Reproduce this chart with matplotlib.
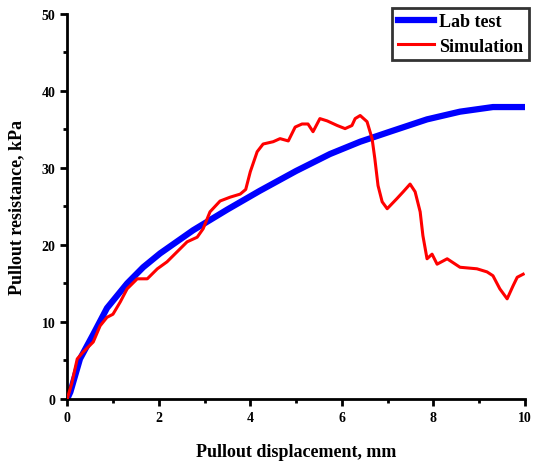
import matplotlib
matplotlib.use('Agg')
import matplotlib.pyplot as plt
from matplotlib.ticker import MultipleLocator

# Lab test curve
lab_x = [0.0, 0.07, 0.28, 0.57, 0.87, 1.31, 1.66, 2.03, 2.75, 3.5, 4.2, 5.0,
         5.74, 6.4, 7.05, 7.86, 8.58, 9.3, 10.0]
lab_y = [0.0, 0.9, 5.2, 8.4, 11.8, 15.0, 17.1, 18.9, 21.9, 24.6, 27.0, 29.6,
         31.8, 33.4, 34.7, 36.3, 37.3, 37.9, 37.9]

# Simulation curve
sim_x = [0.0, 0.1, 0.22, 0.35, 0.57, 0.72, 0.87, 1.0, 1.16, 1.31, 1.53, 1.75, 1.97,
         2.18, 2.4, 2.62, 2.84, 2.97, 3.12, 3.34, 3.56, 3.78, 3.9, 4.0, 4.15, 4.28,
         4.5, 4.65, 4.83, 4.98, 5.13, 5.26, 5.37, 5.52, 5.68, 5.9, 6.07, 6.22, 6.29,
         6.4, 6.55, 6.66, 6.72, 6.79, 6.88, 6.99, 7.2, 7.34, 7.49, 7.6, 7.71, 7.77,
         7.86, 7.97, 8.08, 8.3, 8.58, 8.95, 9.17, 9.3, 9.45, 9.61, 9.74, 9.83, 9.96]
sim_y = [0.0, 2.0, 5.2, 6.1, 7.4, 9.5, 10.6, 11.0, 12.6, 14.3, 15.6, 15.6, 16.9,
         17.8, 19.1, 20.4, 21.0, 22.1, 24.3, 25.7, 26.2, 26.6, 27.2, 29.5, 32.1, 33.1,
         33.4, 33.8, 33.5, 35.3, 35.7, 35.7, 34.7, 36.4, 36.1, 35.5, 35.1, 35.5, 36.4,
         36.8, 36.0, 33.8, 31.2, 27.7, 25.6, 24.7, 26.0, 26.9, 27.9, 26.9, 24.3, 21.2,
         18.2, 18.8, 17.5, 18.2, 17.1, 16.9, 16.5, 16.0, 14.3, 13.0, 14.7, 15.8, 16.2]

plt.rcParams['font.family'] = 'Liberation Serif'
plt.rcParams['font.weight'] = 'bold'

fig = plt.figure(figsize=(5.33, 4.64), dpi=100)
ax = fig.add_axes([0.126, 0.138, 0.859, 0.83])

ax.plot(lab_x, lab_y, color='#0000ff', linewidth=4.5, label='Lab test', zorder=2)
ax.plot(sim_x, sim_y, color='#ff0000', linewidth=2.2, label='Simulation', zorder=3)

ax.set_xlim(0, 10)
ax.set_ylim(0, 50)
ax.xaxis.set_major_locator(MultipleLocator(2))
ax.xaxis.set_minor_locator(MultipleLocator(1))
ax.yaxis.set_major_locator(MultipleLocator(10))
ax.yaxis.set_minor_locator(MultipleLocator(5))

for side in ['top', 'right']:
    ax.spines[side].set_visible(False)
for side in ['left', 'bottom']:
    ax.spines[side].set_linewidth(2)

ax.tick_params(which='major', direction='out', length=5, width=2, labelsize=10)
ax.tick_params(which='minor', direction='out', length=3, width=2)

ax.set_xlabel('Pullout displacement, mm', fontsize=13, fontweight='bold', labelpad=14)
ax.set_ylabel('Pullout resistance, kPa', fontsize=13, fontweight='bold', labelpad=12)

leg = ax.legend(loc='upper left', bbox_to_anchor=(0.71, 1.015), frameon=True,
                fancybox=False, fontsize=13, handlelength=2.0, handletextpad=0.3,
                borderaxespad=0, borderpad=0.3, labelspacing=0.4)
leg.get_frame().set_edgecolor('black')
leg.get_frame().set_linewidth(2)

fig.savefig('out.png', dpi=100)
